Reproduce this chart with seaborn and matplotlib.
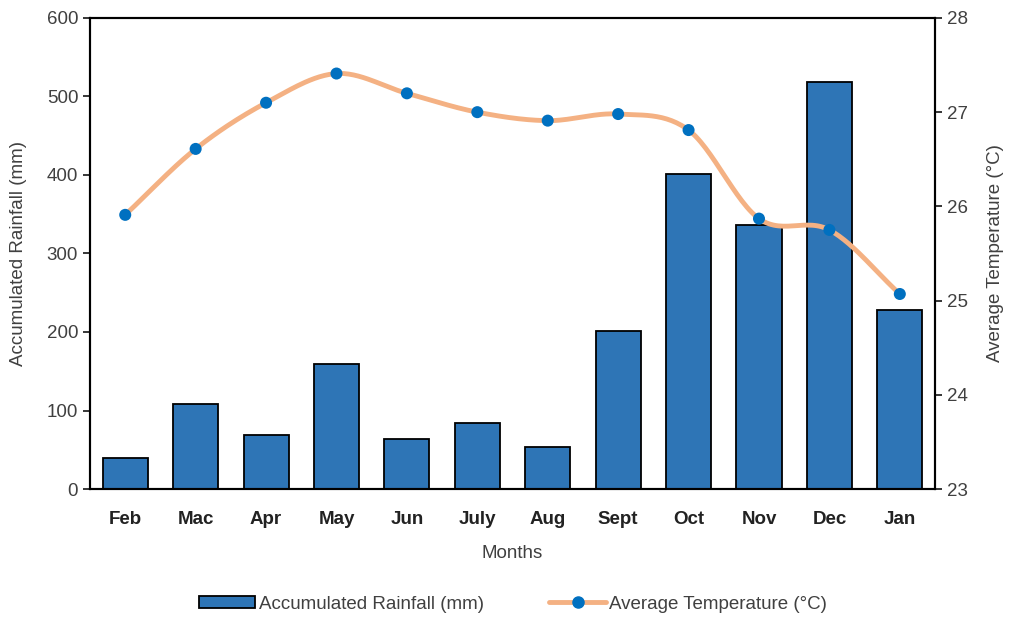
import numpy as np
import pandas as pd
import matplotlib
matplotlib.use('Agg')
import matplotlib.pyplot as plt
import seaborn as sns
from matplotlib.lines import Line2D
from matplotlib.patches import Patch

months = ['Feb', 'Mac', 'Apr', 'May', 'Jun', 'July', 'Aug', 'Sept', 'Oct', 'Nov', 'Dec', 'Jan']
rainfall = [40, 108, 69, 159, 64, 84, 53, 201, 401, 336, 518, 228]
temperature = [25.91, 26.61, 27.10, 27.41, 27.20, 27.00, 26.91, 26.98, 26.81, 25.87, 25.75, 25.07]

bar_color = '#2E75B6'
line_color = '#F4B183'
dot_color = '#0070C0'

sns.set_style('white')
plt.rcParams['font.family'] = ['Liberation Sans', 'DejaVu Sans']

df = pd.DataFrame({'Month': months, 'Rainfall': rainfall, 'Temp': temperature})

fig = plt.figure(figsize=(10.16, 6.19), dpi=100)
ax = fig.add_axes([0.0886, 0.21, 0.8317, 0.761])

sns.barplot(data=df, x='Month', y='Rainfall', color=bar_color, width=0.64,
            edgecolor='black', linewidth=1.3, saturation=1, ax=ax)
ax.set_ylim(0, 600)
ax.set_yticks(range(0, 601, 100))
ax.set_xlim(-0.5, 11.5)
ax.set_xlabel('Months', fontsize=13.5, color='#404040', labelpad=12)
ax.set_ylabel('Accumulated Rainfall (mm)', fontsize=13.5, color='#404040', labelpad=14)
ax.tick_params(axis='y', labelsize=13.5, labelcolor='#404040', length=5, width=1.3, direction='out', left=True)
ax.tick_params(axis='x', labelsize=13.5, length=0, pad=16)
for lbl in ax.get_xticklabels():
    lbl.set_fontweight('bold')
    lbl.set_color('#222222')

# smoothed line (Catmull-Rom through the points, like Excel's smoothed line)
x = np.arange(len(temperature), dtype=float)
y = np.array(temperature)
px = np.concatenate([[2 * x[0] - x[1]], x, [2 * x[-1] - x[-2]]])
py = np.concatenate([[2 * y[0] - y[1]], y, [2 * y[-1] - y[-2]]])
sx, sy = [], []
t = np.linspace(0, 1, 30)
for i in range(1, len(px) - 2):
    p0, p1, p2, p3 = py[i - 1], py[i], py[i + 1], py[i + 2]
    q0, q1, q2, q3 = px[i - 1], px[i], px[i + 1], px[i + 2]
    sy.append(0.5 * (2 * p1 + (-p0 + p2) * t + (2 * p0 - 5 * p1 + 4 * p2 - p3) * t ** 2 + (-p0 + 3 * p1 - 3 * p2 + p3) * t ** 3))
    sx.append(0.5 * (2 * q1 + (-q0 + q2) * t + (2 * q0 - 5 * q1 + 4 * q2 - q3) * t ** 2 + (-q0 + 3 * q1 - 3 * q2 + q3) * t ** 3))
sx = np.concatenate(sx)
sy = np.concatenate(sy)

ax2 = ax.twinx()
ax2.plot(sx, sy, color=line_color, linewidth=3.5, solid_capstyle='round', zorder=2)
sns.scatterplot(x=x, y=y, color=dot_color, s=75, edgecolor='none', zorder=3, ax=ax2)
ax2.set_ylim(23, 28)
ax2.set_yticks(range(23, 29))
ax2.set_ylabel('Average Temperature (°C)', fontsize=13.5, color='#404040', labelpad=14)
ax2.tick_params(axis='y', labelsize=13.5, labelcolor='#404040', length=5, width=1.3, direction='out', right=True)
ax2.set_xlim(-0.5, 11.5)

for a in (ax, ax2):
    for s in a.spines.values():
        s.set_color('black')
        s.set_linewidth(1.5)

handles = [Patch(facecolor=bar_color, edgecolor='black', linewidth=1.3),
           Line2D([0], [0], color=line_color, linewidth=3.5, marker='o',
                  markerfacecolor=dot_color, markeredgecolor=dot_color, markersize=8)]
fig.legend(handles, ['Accumulated Rainfall (mm)', 'Average Temperature (°C)'],
           loc='center', bbox_to_anchor=(0.505, 0.024), ncol=2, frameon=False,
           fontsize=13.5, labelcolor='#404040', columnspacing=3.5, handlelength=3,
           handleheight=0.6, handletextpad=0.2)

fig.savefig('out.png', dpi=100)
